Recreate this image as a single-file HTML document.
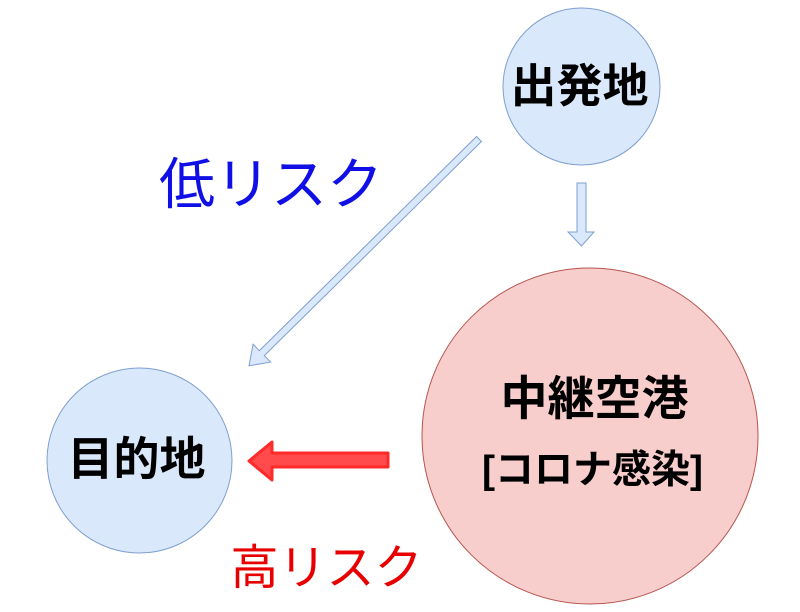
<!DOCTYPE html>
<html><head><meta charset="utf-8"><style>
html,body{margin:0;padding:0;background:#fff;}
svg{display:block;}
.j{font-family:"Liberation Sans","Noto Sans CJK JP",sans-serif;}
</style></head><body>
<svg width="800" height="612" viewBox="0 0 800 612" xmlns="http://www.w3.org/2000/svg">
<rect width="800" height="612" fill="#fff"/>
<circle cx="581.5" cy="86.5" r="78.5" fill="#dae8fc" stroke="#7f9fcf" stroke-width="1"/>
<circle cx="139.5" cy="460.5" r="92.5" fill="#dae8fc" stroke="#7f9fcf" stroke-width="1"/>
<circle cx="590" cy="436" r="168" fill="#f8cecc" stroke="#b85450" stroke-width="1"/>
<g transform="translate(479,139) rotate(135.4)">
<polygon points="0,-3.5 305,-3.5 305,-12.5 323,0 305,12.5 305,3.5 0,3.5" fill="#dae8fc" stroke="#7f9fcf" stroke-width="1"/>
</g>
<polygon points="577,183 586,183 586,232 594,232 581.5,246 568,232 577,232" fill="#dae8fc" stroke="#7f9fcf" stroke-width="1"/>
<polygon points="388,453 272,453 272,442 249,461 272,480 272,467 388,467" fill="#ff4b4b" stroke="#ff2a2a" stroke-width="3" stroke-linejoin="round"/>
<text class="j" x="579.5" y="102" font-size="46" font-weight="bold" text-anchor="middle" fill="#000">出発地</text>
<text class="j" x="136.5" y="475" font-size="46" font-weight="bold" text-anchor="middle" fill="#000">目的地</text>
<text class="j" x="594.5" y="415" font-size="47" font-weight="bold" text-anchor="middle" fill="#000">中継空港</text>
<text class="j" x="592.5" y="483" font-size="39" font-weight="bold" text-anchor="middle" fill="#000">[コロナ感染]</text>
<text class="j" x="271" y="204" font-size="56" text-anchor="middle" fill="#1010e6">低リスク</text>
<text class="j" x="326.5" y="584" font-size="48" text-anchor="middle" fill="#e80000">高リスク</text>
</svg>
</body></html>
